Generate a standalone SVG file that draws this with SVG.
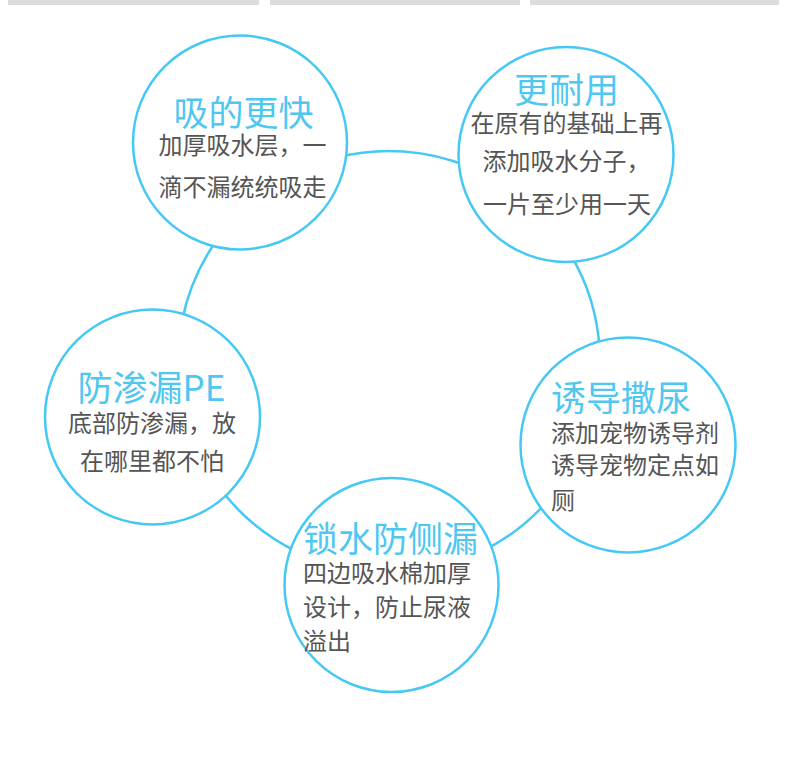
<svg xmlns="http://www.w3.org/2000/svg" width="790" height="757" viewBox="0 0 790 757">
<style>
.bar{fill:#dcdcdc}
.node{fill:#ffffff;stroke:#45c9f4;stroke-width:2.5}
.conn{fill:none;stroke:#45c9f4;stroke-width:2.5}
.title{font-family:"Noto Sans CJK SC","Noto Sans",sans-serif;font-size:35px;fill:#4fc7f1}
.body{font-family:"Noto Sans CJK SC","Noto Sans",sans-serif;font-size:24px;fill:#555555}
.mid{text-anchor:middle}
</style>
<rect width="790" height="757" fill="#ffffff"/>
<g id="topbars">
<rect class="bar" x="8" y="0" width="251" height="5"/>
<rect class="bar" x="270" y="0" width="250" height="5"/>
<rect class="bar" x="530" y="0" width="249" height="5"/>
</g>
<g id="connectors">
<path class="conn" d="M336.2,157.7 A211,211 0 0 1 469.7,167.1"/>
<path class="conn" d="M568.9,251.8 A211,211 0 0 1 599.7,351.0"/>
<path class="conn" d="M548.2,500.4 A211,211 0 0 1 481.5,551.6"/>
<path class="conn" d="M296.5,551.6 A211,211 0 0 1 219.4,487.5"/>
<path class="conn" d="M181.9,321.7 A211,211 0 0 1 217.4,239.2"/>
</g>
<g id="node-faster">
<circle class="node" cx="240" cy="142.5" r="107"/>
<text class="title mid" x="243.5" y="126">吸的更快</text>
<text class="body mid" x="242.5" y="154">加厚吸水层，一</text>
<text class="body mid" x="242.5" y="196">滴不漏统统吸走</text>
</g>
<g id="node-durable">
<circle class="node" cx="566" cy="154.5" r="107.5"/>
<text class="title mid" x="566.5" y="103">更耐用</text>
<text class="body mid" x="566.5" y="132">在原有的基础上再</text>
<text class="body mid" x="566.5" y="170">添加吸水分子，</text>
<text class="body mid" x="567" y="213">一片至少用一天</text>
</g>
<g id="node-pe">
<circle class="node" cx="152.5" cy="417" r="107.5"/>
<text class="title mid" x="151.5" y="401">防渗漏PE</text>
<text class="body mid" x="152" y="432">底部防渗漏，放</text>
<text class="body mid" x="152" y="470">在哪里都不怕</text>
</g>
<g id="node-guide">
<circle class="node" cx="628" cy="445" r="107.5"/>
<text class="title" x="551" y="411">诱导撒尿</text>
<text class="body" x="551" y="442">添加宠物诱导剂</text>
<text class="body" x="551" y="474">诱导宠物定点如</text>
<text class="body" x="551" y="509">厕</text>
</g>
<g id="node-lock">
<circle class="node" cx="391.5" cy="585" r="107"/>
<text class="title" x="303" y="552">锁水防侧漏</text>
<text class="body" x="303" y="582">四边吸水棉加厚</text>
<text class="body" x="303" y="616">设计，防止尿液</text>
<text class="body" x="303" y="650">溢出</text>
</g>
</svg>
